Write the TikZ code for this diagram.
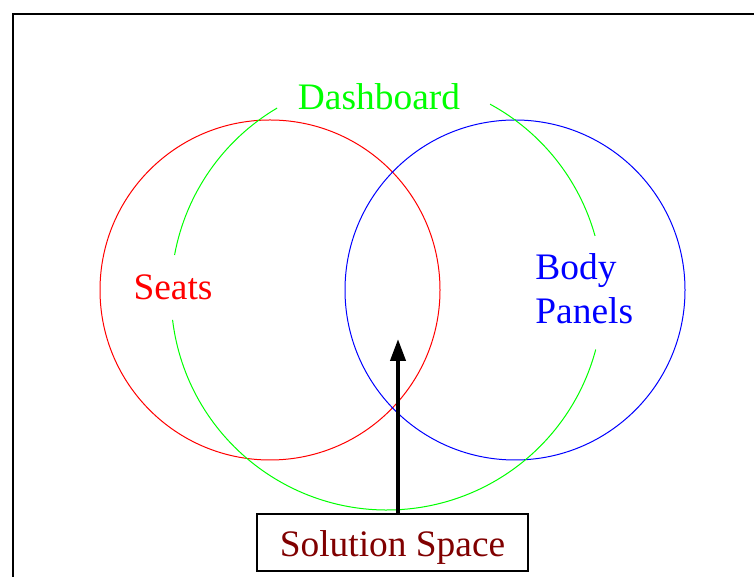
\documentclass[tikz,border=0pt]{standalone}
\usepackage{fontspec}
\setmainfont{Liberation Serif}
\usetikzlibrary{arrows.meta,positioning}

\definecolor{solred}{RGB}{128,0,0}

\begin{document}
\begin{tikzpicture}[x=0.5pt,y=0.5pt,
				ring/.style={line width=0.5pt},
				setlabel/.style={font=\fontsize{18.7}{22}\selectfont, inner sep=0pt},
				answer/.style={draw, line width=0.85pt, text=solred, minimum width=135.5pt, minimum height=28.5pt,
					text height=18pt, text depth=3.5pt, font=\fontsize{18.7}{22}\selectfont}
			]
			
			\clip (0,0) rectangle (754,577);
			
			% frame
			\draw[line width=1.25pt] (13,-10) -- (13,563) -- (770,563);
			
			\coordinate (c_seats) at (270,287);
			\coordinate (c_body) at (515,287);
			\coordinate (c_dash) at (387,283);
			
			\draw[ring, red] (c_seats) circle[radius=85pt];
			\draw[ring, blue] (c_body) circle[radius=85pt];
			
			\draw[ring, green] ([shift={(120.6:108pt)}]c_dash) arc[start angle=120.6, end angle=169.6, radius=108pt];
			\draw[ring, green] ([shift={(186.9:108pt)}]c_dash) arc[start angle=186.9, end angle=345.1, radius=108pt];
			\draw[ring, green] ([shift={(15.6:108pt)}]c_dash) arc[start angle=15.6, end angle=61.5, radius=108pt];
			
			\node[setlabel, text=green, anchor=base] (l_dash) at (379,467) {Dashboard};
			\node[setlabel, text=red, anchor=base] (l_seats) at (173,277) {Seats};
			\node[setlabel, text=blue, anchor=base west, align=left] (l_body) at (535,253) {Body\\Panels};
			
			\node[answer] (s_0) at (392.5,34.5) {Solution Space};
			\coordinate (tip) at (398,238);
			
			\draw[line width=2pt, -{Triangle[length=11pt, width=7.5pt]}] (s_0.north -| tip) -- (tip);
		\end{tikzpicture}
\end{document}
